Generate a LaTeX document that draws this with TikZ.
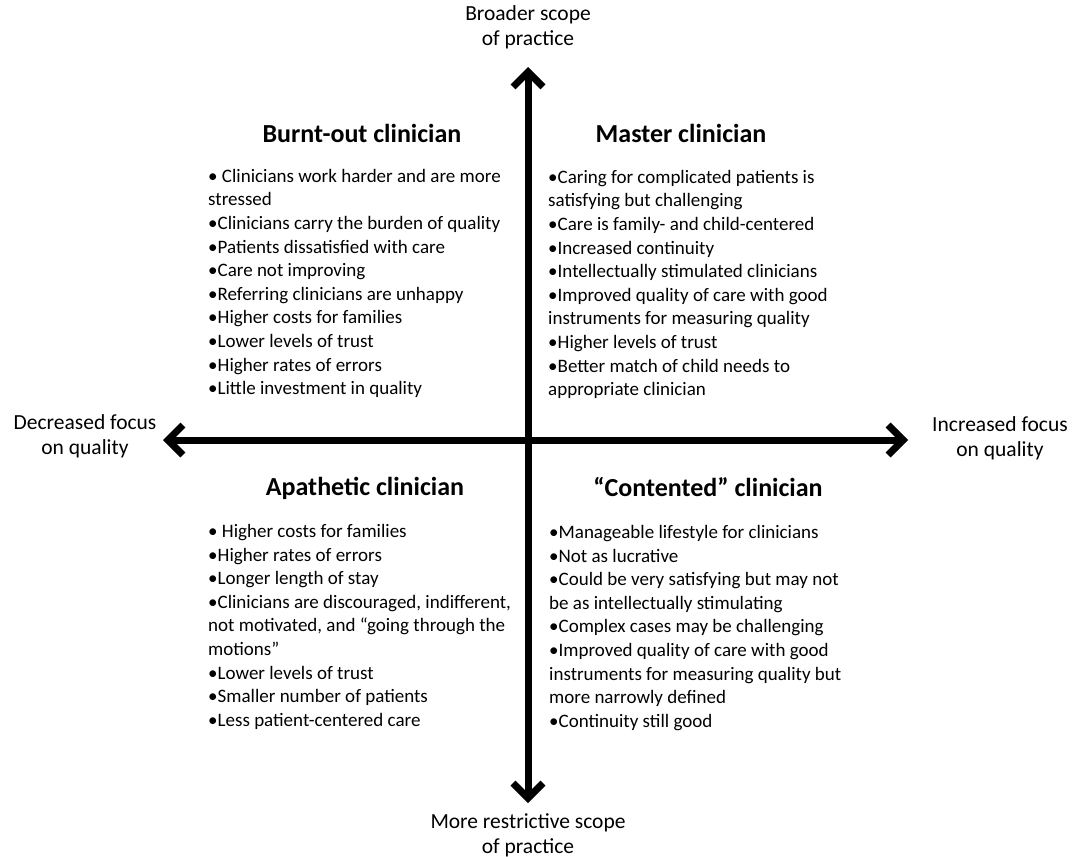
\documentclass[tikz,border=0pt]{standalone}
\usepackage{fontspec}
\setmainfont{Carlito}
\usetikzlibrary{arrows.meta}

\begin{document}
\begin{tikzpicture}[x=1pt, y=-1pt,
  axis/.style={line width=7pt, {Straight Barb[length=15pt,width=30pt]}-{Straight Barb[length=15pt,width=30pt]}},
  heading/.style={font=\fontsize{26}{31}\selectfont\bfseries, inner sep=0pt, anchor=base},
  items/.style={font=\fontsize{19}{23.6}\selectfont, align=left, anchor=north west, inner sep=0pt},
  axislabel/.style={font=\fontsize{21.5}{25}\selectfont, align=center, inner sep=0pt}]
\useasboundingbox (0,0) rectangle (1074,857);

% axes
\coordinate (top) at (528,67);
\coordinate (bottom) at (528,803);
\coordinate (left) at (163,440);
\coordinate (right) at (908,440);
\draw [axis] (bottom) -- (top);
\draw [axis] (left) -- (right);

\node [axislabel] (broader) at (528,27) {Broader scope\\of practice};
\node [axislabel] (restrictive) at (528,835) {More restrictive scope\\of practice};
\node [axislabel] (decreased) at (85,436) {Decreased focus\\on quality};
\node [axislabel] (increased) at (1000,438) {Increased focus\\on quality};

% quadrants
\node [heading] (burnt) at (362,142) {Burnt-out clinician};
\node [items] (burntlist) at (208,169) {%
  • Clinicians work harder and are more\\
  stressed\\
  •Clinicians carry the burden of quality\\
  •Patients dissatisfied with care\\
  •Care not improving\\
  •Referring clinicians are unhappy\\
  •Higher costs for families\\
  •Lower levels of trust\\
  •Higher rates of errors\\
  •Little investment in quality};

\node [heading] (master) at (681,142) {Master clinician};
\node [items] (masterlist) at (548,170) {%
  •Caring for complicated patients is\\
  satisfying but challenging\\
  •Care is family- and child-centered\\
  •Increased continuity\\
  •Intellectually stimulated clinicians\\
  •Improved quality of care with good\\
  instruments for measuring quality\\
  •Higher levels of trust\\
  •Better match of child needs to\\
  appropriate clinician};

\node [heading] (apathetic) at (365,495) {Apathetic clinician};
\node [items] (apatheticlist) at (208,524) {%
  • Higher costs for families\\
  •Higher rates of errors\\
  •Longer length of stay\\
  •Clinicians are discouraged, indifferent,\\
  not motivated, and “going through the\\
  motions”\\
  •Lower levels of trust\\
  •Smaller number of patients\\
  •Less patient-centered care};

\node [heading] (contented) at (708,496) {“Contented” clinician};
\node [items] (contentedlist) at (549,525) {%
  •Manageable lifestyle for clinicians\\
  •Not as lucrative\\
  •Could be very satisfying but may not\\
  be as intellectually stimulating\\
  •Complex cases may be challenging\\
  •Improved quality of care with good\\
  instruments for measuring quality but\\
  more narrowly defined\\
  •Continuity still good};
\end{tikzpicture}
\end{document}
